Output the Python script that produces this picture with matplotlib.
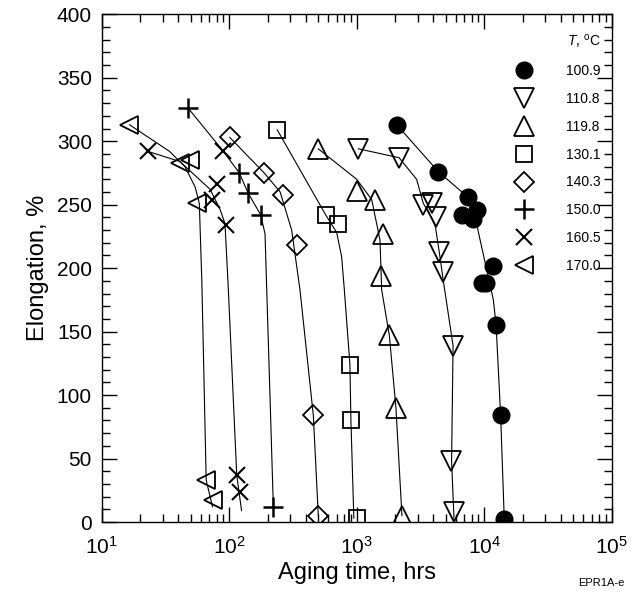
"""Elongation at break vs aging time for EPR insulation at several temperatures."""
import matplotlib
matplotlib.use("Agg")
import matplotlib.pyplot as plt
from matplotlib.ticker import MultipleLocator, LogLocator

plt.rcParams.update({
    "font.family": ["Liberation Sans", "DejaVu Sans"],
    "mathtext.fontset": "custom",
    "mathtext.rm": "Liberation Sans",
    "mathtext.it": "Liberation Sans:italic",
    "axes.linewidth": 1.0,
})

C_INK = "black"

# measured points: aging time (hrs) and elongation (%)
t_1009 = [2060, 4370, 6670, 7430, 8220, 8730, 9600, 10300, 11670, 12400, 13460, 14350]
e_1009 = [313, 276, 242, 256, 239, 246, 188, 188, 202, 155, 84, 2]
t_1108 = [1030, 2150, 3300, 3870, 4170, 4450, 4780, 5730, 5460, 5800]
e_1108 = [294, 287, 250, 251, 240, 213, 197, 139, 48, 8]
t_1198 = [500, 1000, 1394, 1618, 1542, 1803, 2032, 2264]
e_1198 = [294, 261, 254, 227, 194, 147, 90, 5]
t_1301 = [238, 571, 718, 885, 901, 1000]
e_1301 = [309, 242, 235, 124, 80, 3]
t_1403 = [101, 188, 263, 338, 457, 500]
e_1403 = [303, 275, 258, 218, 84, 5]
t_1500 = [47.7, 120, 141, 176.6, 222]
e_1500 = [326, 275, 259, 242, 12]
t_1605 = [23, 73, 79.8, 90, 94.4, 114.6, 121.6]
e_1605 = [292, 254, 266, 292, 234, 37, 24]
t_1700 = [16.5, 41, 49, 55.8, 65.8, 74.3]
e_1700 = [313, 283, 285, 251, 33, 17]

# hand-drawn trend curves through each temperature set
fit_1009_t = [2060, 4370, 7430, 8500, 9300, 11800, 12400, 13460, 13750, 14400]
fit_1009_e = [313, 276, 256, 240, 222, 175, 155, 84, 57, 0]
fit_1108_t = [1030, 2150, 2950, 3330, 4110, 4500, 4780, 5700, 5550, 5800]
fit_1108_e = [294, 287, 270, 251, 235, 209, 190, 139, 48, 2]
fit_1198_t = [500, 1000, 1312, 1524, 1570, 1803, 2032, 2264]
fit_1198_e = [294, 270, 254, 222, 183, 147, 90, 5]
fit_1301_t = [238, 571, 697, 762, 800, 885, 901, 950]
fit_1301_e = [309, 242, 228, 209, 183, 124, 80, 3]
fit_1403_t = [101, 188, 251, 309, 359, 457, 500]
fit_1403_e = [303, 275, 260, 230, 183, 84, 5]
fit_1500_t = [47.7, 90, 120, 141, 176.6, 191, 197, 222]
fit_1500_e = [326, 292, 275, 259, 242, 227, 183, 12]
fit_1605_t = [23, 41, 71, 85, 92.7, 98.5, 114.6, 125]
fit_1605_e = [292, 284, 262, 246, 235, 183, 37, 9]
fit_1700_t = [16.5, 34, 45, 54, 58.3, 61, 66, 74]
fit_1700_e = [313, 292, 280, 264, 251, 190, 33, 12]

temps = ["100.9", "110.8", "119.8", "130.1", "140.3", "150.0", "160.5", "170.0"]

series = [
    (t_1009, e_1009, fit_1009_t, fit_1009_e, dict(marker="o", ms=12, mfc=C_INK, mew=1.0)),
    (t_1108, e_1108, fit_1108_t, fit_1108_e, dict(marker="v", ms=14, mfc="none", mew=1.3)),
    (t_1198, e_1198, fit_1198_t, fit_1198_e, dict(marker="^", ms=14, mfc="none", mew=1.3)),
    (t_1301, e_1301, fit_1301_t, fit_1301_e, dict(marker="s", ms=11.5, mfc="none", mew=1.3)),
    (t_1403, e_1403, fit_1403_t, fit_1403_e, dict(marker="D", ms=10, mfc="none", mew=1.3)),
    (t_1500, e_1500, fit_1500_t, fit_1500_e, dict(marker="+", ms=14, mew=1.8)),
    (t_1605, e_1605, fit_1605_t, fit_1605_e, dict(marker="x", ms=12, mew=1.5)),
    (t_1700, e_1700, fit_1700_t, fit_1700_e, dict(marker="<", ms=12.5, mfc="none", mew=1.3)),
]

fig = plt.figure(figsize=(6.34, 5.94), dpi=100)
ax = fig.add_axes([0.1604, 0.1212, 0.8044, 0.8548])

for (t, e, ft, fe, style), lab in zip(series, temps):
    ax.plot(ft, fe, "-", color=C_INK, lw=0.8, zorder=2)
    ax.plot(t, e, ls="none", color=C_INK, mec=C_INK, label=lab, zorder=3, **style)

ax.set_xscale("log")
ax.set_xlim(10, 1e5)
ax.set_ylim(0, 400)
ax.yaxis.set_major_locator(MultipleLocator(50))
ax.yaxis.set_minor_locator(MultipleLocator(10))
ax.xaxis.set_minor_locator(LogLocator(base=10, subs=range(2, 10)))
ax.tick_params(which="both", direction="in", top=True, right=True, width=1.0)
ax.tick_params(which="major", length=11, labelsize=15)
ax.tick_params(axis="x", which="major", pad=10)
ax.tick_params(axis="y", which="major", pad=7)
ax.tick_params(which="minor", length=6)

ax.set_xlabel("Aging time, hrs", fontsize=17, labelpad=3)
ax.set_ylabel("Elongation, %", fontsize=17, labelpad=6)

ax.legend(loc="upper right", bbox_to_anchor=(0.978, 0.965), frameon=False,
          fontsize=10, title="$T$, $^{\\rm o}$C", title_fontsize=10,
          alignment="right", labelspacing=1.0, handlelength=1.0,
          handletextpad=2.5, borderaxespad=0, borderpad=0)

fig.text(0.985, 0.01, "EPR1A-e", fontsize=8, ha="right", va="bottom")

fig.savefig("out.png", dpi=100)
